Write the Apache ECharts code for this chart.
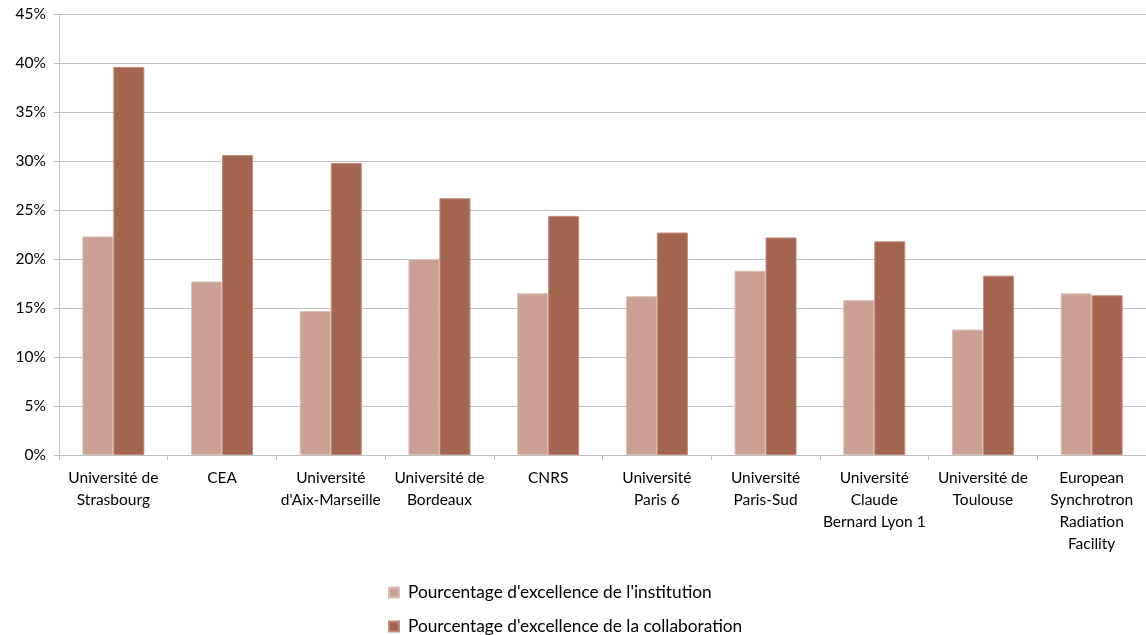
<!DOCTYPE html>
<html><head><meta charset="utf-8">
<script src="https://cdn.jsdelivr.net/npm/echarts@6/dist/echarts.min.js"></script>
<style>html,body{margin:0;padding:0;background:#fff}#c{width:1146px;height:635px}</style>
</head><body><div id="c"></div>
<script>
const categories = ["Université de\nStrasbourg","CEA","Université\nd'Aix-Marseille","Université de\nBordeaux","CNRS","Université\nParis 6","Université\nParis-Sud","Université\nClaude\nBernard Lyon 1","Université de\nToulouse","European\nSynchrotron\nRadiation\nFacility"];
const institution = [22.3,17.7,14.7,20.0,16.5,16.2,18.8,15.8,12.8,16.5];
const collaboration = [39.6,30.6,29.8,26.2,24.4,22.7,22.2,21.8,18.3,16.3];
const seriesNames = ["Pourcentage d'excellence de l'institution","Pourcentage d'excellence de la collaboration"];
const font = "Lato, 'Open Sans', sans-serif";
const chart = echarts.init(document.getElementById('c'));
const legendBase = {left:388,itemWidth:10,itemHeight:10,icon:'rect',
  textStyle:{fontSize:17.3,color:'#000',fontFamily:font,padding:[0,0,0,4]},padding:0};
chart.setOption({
  animation:false,
  textStyle:{fontFamily:font},
  grid:{left:59,right:0,top:14,bottom:180,containLabel:false},
  legend:[Object.assign({top:584,data:[seriesNames[0]]},legendBase),
          Object.assign({top:618,data:[seriesNames[1]]},legendBase)],
  xAxis:{type:'category',data:categories,
    axisLine:{lineStyle:{color:'#BFBFBF'}},
    axisTick:{show:true,length:5,lineStyle:{color:'#BFBFBF'}},
    axisLabel:{interval:0,color:'#000',fontSize:15.5,lineHeight:22,margin:12,fontFamily:font}},
  yAxis:{type:'value',min:0,max:45,interval:5,
    axisLine:{show:true,lineStyle:{color:'#BFBFBF'}},
    axisTick:{show:true,length:5,lineStyle:{color:'#BFBFBF'}},
    splitLine:{lineStyle:{color:'#BFBFBF'}},
    axisLabel:{formatter:'{value}%',color:'#000',fontSize:15.5,margin:13,fontFamily:font}},
  series:[
    {name:seriesNames[0],type:'bar',data:institution,barWidth:31,barGap:'0%',
     itemStyle:{color:'#C9A093',borderColor:'#DCC0B6',borderWidth:1}},
    {name:seriesNames[1],type:'bar',data:collaboration,barWidth:31,barGap:'0%',
     itemStyle:{color:'#A3654F',borderColor:'#C08C7A',borderWidth:1}}
  ]
});
</script></body></html>
